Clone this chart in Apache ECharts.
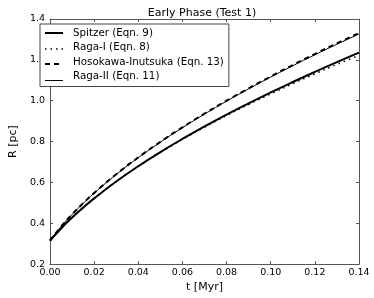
<!DOCTYPE html>
<html><head><meta charset="utf-8">
<script src="https://cdn.jsdelivr.net/npm/echarts@6/dist/echarts.min.js"></script>
<style>html,body{margin:0;padding:0;background:#fff}#c{width:374px;height:298px}</style>
</head><body><div id="c"></div>
<script>
const tValues = [0, 0.005, 0.01, 0.015, 0.02, 0.03, 0.04, 0.05, 0.06, 0.07, 0.08, 0.09, 0.10, 0.11, 0.12, 0.13, 0.14];
const spitzer = [0.315, 0.3746, 0.4279, 0.4765, 0.5217, 0.6043, 0.6791, 0.7483, 0.8129, 0.8738, 0.9319, 0.9872, 1.0403, 1.0914, 1.1408, 1.1887, 1.2351];
const ragaI = [0.315, 0.3746, 0.4279, 0.4764, 0.5215, 0.6040, 0.6780, 0.7465, 0.8103, 0.8703, 0.9274, 0.9815, 1.0333, 1.0831, 1.1312, 1.1777, 1.2221];
const hosokawa = [0.315, 0.3833, 0.4434, 0.4979, 0.5482, 0.6398, 0.7224, 0.7986, 0.8696, 0.9364, 1.0000, 1.0605, 1.1186, 1.1746, 1.2285, 1.2808, 1.3315];
const ragaII = [0.315, 0.3830, 0.4428, 0.4971, 0.5472, 0.6386, 0.7210, 0.7970, 0.8678, 0.9344, 0.9978, 1.0580, 1.1157, 1.1714, 1.2248, 1.2766, 1.3265];
const seriesNames = ['Spitzer (Eqn. 9)', 'Raga-I (Eqn. 8)', 'Hosokawa-Inutsuka (Eqn. 13)', 'Raga-II (Eqn. 11)'];
const titleText = 'Early Phase (Test 1)';
const xLabel = 't [Myr]';
const yLabel = 'R [pc]';

const styles = [
  {width: 2, dash: null},
  {width: 1.5, dash: [1.5, 4]},
  {width: 2, dash: [5, 4]},
  {width: 1, dash: null}
];
const pairs = arr => tValues.map((t, i) => [t, arr[i]]);
const font = 'DejaVu Sans';
const axisCol = '#555';
const chart = echarts.init(document.getElementById('c'));
const baseAxis = {
  axisLine: {show: true, onZero: false, lineStyle: {color: axisCol, width: 1}},
  axisTick: {show: true, inside: true, length: 3, lineStyle: {color: axisCol}},
  splitLine: {show: false}
};
const legTop = 24, pad = 3, rowH = 12, gap = 3.5;
const iconLines = styles.map((s, i) => {
  const y = Math.round(legTop + pad + rowH / 2 + i * (rowH + gap)) + (s.width === 1 ? 0.5 : 0);
  return {type: 'line', z: 100, shape: {x1: 45, y1: y, x2: 63, y2: y},
    style: {stroke: '#000', lineWidth: s.width, lineDash: s.dash}};
});
chart.setOption({
  animation: false,
  textStyle: {fontFamily: font},
  title: {text: titleText, left: 197, top: 3, textAlign: 'center',
    textStyle: {fontFamily: font, fontSize: 11, fontWeight: 'normal', color: '#000'}},
  grid: {left: 35, right: 15, top: 19, bottom: 30, containLabel: false},
  legend: {
    orient: 'vertical', left: 40, top: legTop,
    data: seriesNames, icon: 'none',
    backgroundColor: '#fff', borderColor: '#444', borderWidth: 1,
    padding: [pad, 5, pad + 2, 5], itemGap: gap, itemWidth: 18, itemHeight: rowH,
    textStyle: {fontFamily: font, fontSize: 10.3, color: '#000', padding: [0, 0, 0, 5]}
  },
  graphic: iconLines,
  xAxis: [
    Object.assign({}, baseAxis, {type: 'value', min: 0, max: 0.14, interval: 0.02, position: 'bottom',
      name: xLabel, nameLocation: 'middle', nameGap: 13,
      nameTextStyle: {fontFamily: font, fontSize: 11, color: '#000'},
      axisLabel: {fontFamily: font, fontSize: 9.5, color: '#000', margin: 3, formatter: v => v.toFixed(2)}}),
    Object.assign({}, baseAxis, {type: 'value', min: 0, max: 0.14, interval: 0.02, position: 'top',
      axisLabel: {show: false}})
  ],
  yAxis: [
    Object.assign({}, baseAxis, {type: 'value', min: 0.2, max: 1.4, interval: 0.2, position: 'left',
      name: yLabel, nameLocation: 'middle', nameGap: 26, nameRotate: 90,
      nameTextStyle: {fontFamily: font, fontSize: 11, color: '#000'},
      axisLabel: {fontFamily: font, fontSize: 9.5, color: '#000', margin: 5, formatter: v => v.toFixed(1)}}),
    Object.assign({}, baseAxis, {type: 'value', min: 0.2, max: 1.4, interval: 0.2, position: 'right',
      axisLabel: {show: false}})
  ],
  series: [0, 1, 2, 3].map(i => ({
    name: seriesNames[i], type: 'line', data: pairs([spitzer, ragaI, hosokawa, ragaII][i]),
    showSymbol: false, symbol: 'none', smooth: true,
    lineStyle: {color: '#000', width: styles[i].width, type: styles[i].dash || 'solid'},
    itemStyle: {color: '#000'}
  }))
});
</script></body></html>
